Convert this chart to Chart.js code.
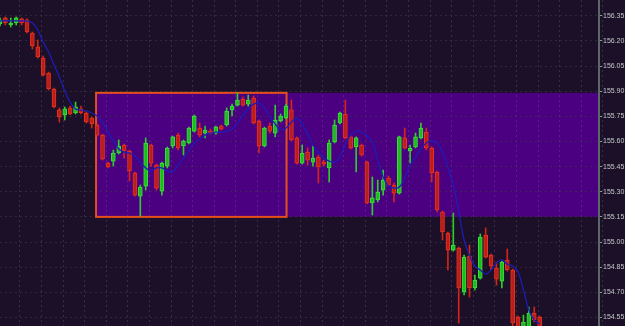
<!DOCTYPE html>
<html>
<head>
<meta charset="utf-8">
<script src="https://cdn.jsdelivr.net/npm/chart.js@4"></script>
<style>
  html, body { margin: 0; padding: 0; background: #1b1028; }
  canvas { display: block; }
</style>
</head>
<body>
<canvas id="chart" width="625" height="326"></canvas>
<script>
// candles, one per bar, oldest first
const opens = [156.301,156.337,156.295,156.307,156.331,156.325,156.247,156.164,156.098,156.008,
  155.913,155.788,155.758,155.800,155.770,155.794,155.770,155.740,155.698,155.638,
  155.471,155.483,155.531,155.579,155.543,155.412,155.274,155.334,155.579,155.459,
  155.304,155.453,155.573,155.638,155.573,155.591,155.662,155.680,155.650,155.662,
  155.650,155.692,155.698,155.788,155.817,155.853,155.823,155.859,155.722,155.573,
  155.692,155.650,155.722,155.740,155.788,155.621,155.471,155.537,155.477,155.507,
  155.477,155.442,155.597,155.710,155.764,155.627,155.567,155.579,155.477,155.233,
  155.251,155.310,155.382,155.340,155.292,155.621,155.543,155.567,155.621,155.656,
  155.561,155.418,155.179,155.054,154.952,154.964,154.702,154.916,154.726,154.785,
  155.042,154.922,154.845,154.767,154.893,154.833,154.552,154.445,154.475,154.576,
  154.552];
const highs = [156.337,156.343,156.337,156.343,156.337,156.331,156.253,156.205,156.110,156.014,
  155.919,155.800,155.806,155.811,155.835,155.811,155.776,155.746,155.704,155.644,
  155.477,155.549,155.609,155.585,155.549,155.418,155.340,155.621,155.585,155.465,
  155.477,155.567,155.632,155.650,155.609,155.686,155.758,155.710,155.692,155.674,
  155.692,155.698,155.800,155.823,155.889,155.865,155.877,155.871,155.728,155.686,
  155.710,155.817,155.764,155.823,155.847,155.627,155.579,155.561,155.573,155.519,
  155.489,155.609,155.728,155.776,155.847,155.632,155.627,155.585,155.483,155.388,
  155.370,155.430,155.394,155.352,155.632,155.680,155.579,155.650,155.710,155.680,
  155.567,155.424,155.185,155.060,155.173,154.970,154.922,154.982,154.803,155.048,
  155.084,154.928,154.881,154.887,154.958,154.839,154.558,154.564,154.612,154.612,
  154.558];
const lows = [156.289,156.295,156.283,156.295,156.295,156.247,156.152,156.098,155.991,155.907,
  155.800,155.716,155.728,155.758,155.764,155.764,155.710,155.680,155.632,155.489,
  155.442,155.453,155.525,155.501,155.364,155.274,155.155,155.310,155.453,155.310,
  155.280,155.442,155.561,155.549,155.519,155.585,155.656,155.627,155.621,155.644,
  155.644,155.668,155.692,155.752,155.811,155.811,155.811,155.704,155.531,155.567,
  155.650,155.627,155.716,155.734,155.603,155.465,155.465,155.459,155.453,155.352,
  155.453,155.358,155.591,155.704,155.615,155.555,155.418,155.513,155.227,155.161,
  155.239,155.280,155.334,155.239,155.286,155.555,155.471,155.561,155.615,155.549,
  155.358,155.179,155.012,154.833,154.946,154.517,154.684,154.672,154.714,154.779,
  154.905,154.833,154.743,154.726,154.827,154.499,154.445,154.415,154.445,154.523,
  154.445];
const closes = [156.325,156.307,156.307,156.337,156.307,156.253,156.170,156.104,155.996,155.913,
  155.806,155.746,155.794,155.764,155.806,155.770,155.716,155.704,155.638,155.495,
  155.448,155.531,155.573,155.543,155.424,155.280,155.328,155.591,155.471,155.322,
  155.471,155.561,155.627,155.561,155.603,155.680,155.752,155.638,155.668,155.650,
  155.686,155.674,155.782,155.811,155.847,155.817,155.847,155.710,155.573,155.680,
  155.662,155.728,155.752,155.811,155.609,155.471,155.531,155.489,155.501,155.448,
  155.465,155.591,155.698,155.770,155.621,155.561,155.621,155.519,155.233,155.263,
  155.298,155.370,155.340,155.292,155.627,155.561,155.561,155.627,155.680,155.561,
  155.412,155.191,155.060,154.952,154.982,154.726,154.910,154.726,154.773,155.030,
  154.910,154.857,154.779,154.881,154.833,154.517,154.475,154.523,154.576,154.535,
  154.475];
// smooth average line (blue)
const avgLine = [156.319,156.319,156.319,156.319,156.319,156.319,156.307,156.265,156.193,156.134,
  156.056,155.985,155.901,155.835,155.794,155.788,155.782,155.770,155.752,155.716,
  155.656,155.603,155.555,155.537,155.531,155.513,155.477,155.442,155.424,155.442,
  155.442,155.424,155.418,155.459,155.501,155.549,155.591,155.615,155.638,155.650,
  155.656,155.656,155.662,155.674,155.710,155.758,155.794,155.823,155.829,155.800,
  155.746,155.704,155.668,155.680,155.716,155.740,155.704,155.644,155.579,155.537,
  155.501,155.483,155.477,155.507,155.585,155.638,155.662,155.656,155.632,155.597,
  155.489,155.388,155.334,155.322,155.328,155.382,155.459,155.507,155.555,155.591,
  155.603,155.591,155.537,155.448,155.340,155.185,155.012,154.922,154.857,154.833,
  154.809,154.833,154.875,154.893,154.869,154.857,154.821,154.714,154.594,154.535,
  154.511];
const yTicks = [156.35,156.20,156.05,155.90,155.75,155.60,155.45,155.30,155.15,155.00,154.85,154.70,154.55];
const zonePrices = [155.15, 155.89];
const zoneFromBar = 17.8;
const boxToBar = 53.1;

const up = opens.map((o, i) => closes[i] >= o);
const gridBars = Array.from({length: 28}, (_, k) => 3.7 + 4 * k);

const zonePlugin = {
  id: 'zone',
  beforeDraw(chart) {
    const {ctx, chartArea: a, scales: {x, y}} = chart;
    ctx.save();
    ctx.fillStyle = '#1b1028';
    ctx.fillRect(0, 0, chart.width, chart.height);
    const x0 = x.getPixelForValue(zoneFromBar);
    const yTop = y.getPixelForValue(zonePrices[1]);
    const yBot = y.getPixelForValue(zonePrices[0]);
    ctx.fillStyle = '#4b0082';
    ctx.fillRect(x0, yTop, a.right - x0, yBot - yTop);
    ctx.restore();
  },
  beforeDatasetsDraw(chart) {
    const {ctx, scales: {x, y}} = chart;
    const x0 = x.getPixelForValue(zoneFromBar);
    const x1 = x.getPixelForValue(boxToBar);
    const yTop = y.getPixelForValue(zonePrices[1]);
    const yBot = y.getPixelForValue(zonePrices[0]);
    ctx.save();
    ctx.strokeStyle = '#e4501c';
    ctx.lineWidth = 2;
    ctx.strokeRect(x0, yTop, x1 - x0, yBot - yTop);
    ctx.restore();
  }
};

new Chart(document.getElementById('chart').getContext('2d'), {
  type: 'bar',
  data: {
    datasets: [
      {
        type: 'line',
        label: 'Average',
        data: avgLine.map((v, i) => ({x: i, y: v})),
        borderColor: '#1c1cb8',
        borderWidth: 1.3,
        pointRadius: 0,
        tension: 0.4,
        order: 0
      },
      {
        label: 'Bodies',
        data: opens.map((o, i) => ({x: i, y: [o, closes[i]]})),
        backgroundColor: up.map(u => u ? '#22b822' : '#b81e1a'),
        borderColor: up.map(u => u ? '#3ae03a' : '#ec3020'),
        borderWidth: 1,
        borderSkipped: false,
        barThickness: 4,
        minBarLength: 1,
        grouped: false,
        order: 1
      },
      {
        label: 'Wicks',
        data: lows.map((l, i) => ({x: i, y: [l, highs[i]]})),
        backgroundColor: up.map(u => u ? '#2ccc2c' : '#d42418'),
        borderWidth: 0,
        barThickness: 1,
        grouped: false,
        order: 2
      }
    ]
  },
  options: {
    responsive: false,
    animation: false,
    layout: {padding: 0},
    plugins: {legend: {display: false}, tooltip: {enabled: false}},
    scales: {
      x: {
        type: 'linear',
        min: 0,
        max: 111,
        offset: false,
        afterBuildTicks: s => { s.ticks = gridBars.map(v => ({value: v})); },
        afterFit: s => { s.height = 0; },
        ticks: {display: false},
        grid: {offset: false, color: 'rgba(150,130,175,0.24)', drawTicks: false, lineWidth: 1},
        border: {display: false, dash: [2, 3]}
      },
      y: {
        position: 'right',
        min: 154.499,
        max: 156.444,
        afterBuildTicks: s => { s.ticks = yTicks.map(v => ({value: v})); },
        afterFit: s => { s.width = 26; s.paddingTop = 0; s.paddingBottom = 0; },
        ticks: {
          color: '#c4c8c8',
          font: {family: 'Liberation Sans', size: 7},
          padding: 1,
          callback: v => v.toFixed(2)
        },
        grid: {color: 'rgba(58,54,62,0.65)', tickColor: '#8a9898', tickLength: 3, tickBorderDash: [], lineWidth: 1},
        border: {display: true, color: '#5a6868', width: 2, dash: [2, 3]}
      }
    }
  },
  plugins: [zonePlugin]
});
</script>
</body>
</html>
